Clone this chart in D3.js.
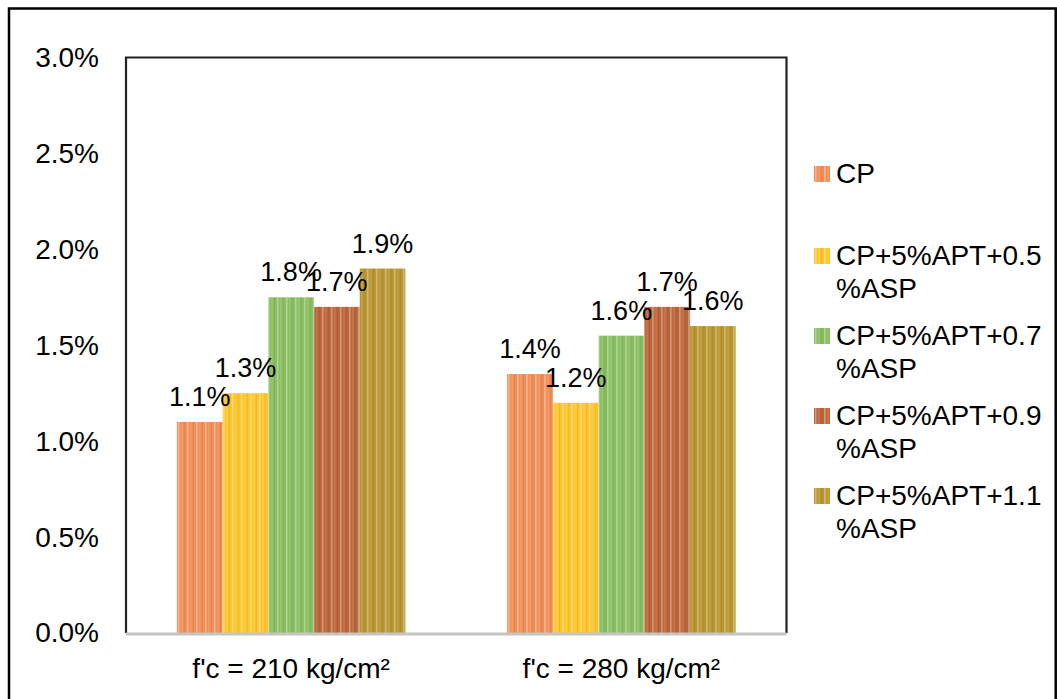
<!DOCTYPE html>
<html>
<head>
<meta charset="utf-8">
<script src="https://cdn.jsdelivr.net/npm/d3@7"></script>
<style>
  html, body { margin: 0; padding: 0; background: #fff; }
  svg { display: block; font-family: "Liberation Sans", Arial, sans-serif; }
</style>
</head>
<body>
<svg id="chart" width="1057" height="699"></svg>
<script>
// Strength groups on the x axis
const categories = ["f'c = 210 kg/cm²", "f'c = 280 kg/cm²"];

// Mix designs (legend order), each with its two-line legend label
const seriesNames = ["CP", "CP+5%APT+0.5%ASP", "CP+5%APT+0.7%ASP", "CP+5%APT+0.9%ASP", "CP+5%APT+1.1%ASP"];
const legendLines = [["CP"], ["CP+5%APT+0.5", "%ASP"], ["CP+5%APT+0.7", "%ASP"], ["CP+5%APT+0.9", "%ASP"], ["CP+5%APT+1.1", "%ASP"]];

// Values in percent, one array per mix design: [210, 280]
const cpValues    = [1.10, 1.35];
const asp05Values = [1.25, 1.20];
const asp07Values = [1.75, 1.55];
const asp09Values = [1.70, 1.70];
const asp11Values = [1.90, 1.60];
const seriesValues = [cpValues, asp05Values, asp07Values, asp09Values, asp11Values];

// Y axis ticks (percent)
const yTicks = [0, 0.5, 1.0, 1.5, 2.0, 2.5, 3.0];

const colors = ["#ef8d55", "#fcc52a", "#88bd5f", "#bb6438", "#b99530"];

const svg = d3.select("#chart");
const plot = { left: 126, right: 786.5, top: 57.5, bottom: 633 };

// Striped fills
const defs = svg.append("defs");
colors.forEach((c, i) => {
  const p = defs.append("pattern")
    .attr("id", "stripe" + i)
    .attr("patternUnits", "userSpaceOnUse")
    .attr("width", 9).attr("height", 12);
  p.append("rect").attr("width", 9).attr("height", 12).attr("fill", c);
  p.append("rect").attr("x", 1).attr("width", 1.6).attr("height", 12).attr("fill", "#fff").attr("opacity", 0.35);
  p.append("rect").attr("x", 4.5).attr("width", 1).attr("height", 12).attr("fill", "#fff").attr("opacity", 0.2);
  p.append("rect").attr("x", 7).attr("width", 1).attr("height", 12).attr("fill", "#000").attr("opacity", 0.06);
});

// Outer frame
svg.append("rect")
  .attr("x", 9).attr("y", 8.5)
  .attr("width", 1055.7 - 9).attr("height", 720)
  .attr("fill", "#fff").attr("stroke", "#000").attr("stroke-width", 2.5);

// Scales
const x0 = d3.scaleBand()
  .domain(categories)
  .range([plot.left, plot.right])
  .paddingInner(0.308)
  .paddingOuter(0.154);

const x1 = d3.scaleBand()
  .domain(seriesNames)
  .range([0, x0.bandwidth()]);

const y = d3.scaleLinear().domain([0, 3]).range([plot.bottom, plot.top]);

// Plot area frame (left, top, right)
svg.append("path")
  .attr("d", `M${plot.left},${plot.bottom} V${plot.top} H${plot.right} V${plot.bottom}`)
  .attr("fill", "none").attr("stroke", "#222").attr("stroke-width", 2.2);

// Bars
const groups = svg.append("g").selectAll("g")
  .data(categories)
  .join("g")
  .attr("transform", d => `translate(${x0(d)},0)`);

const fmt = d3.format(".1f");

groups.each(function(cat, ci) {
  const g = d3.select(this);
  seriesNames.forEach((s, si) => {
    const v = seriesValues[si][ci];
    g.append("rect")
      .attr("x", x1(s))
      .attr("y", y(v))
      .attr("width", x1.bandwidth())
      .attr("height", y(0) - y(v))
      .attr("fill", `url(#stripe${si})`);
  });
  seriesNames.forEach((s, si) => {
    const v = seriesValues[si][ci];
    g.append("text")
      .attr("x", x1(s) + x1.bandwidth() / 2)
      .attr("y", y(v) - 16)
      .attr("text-anchor", "middle")
      .attr("font-size", 27)
      .attr("fill", "#000")
      .text(fmt(v) + "%");
  });
});

// X axis baseline
svg.append("line")
  .attr("x1", plot.left).attr("x2", plot.right)
  .attr("y1", plot.bottom + 1).attr("y2", plot.bottom + 1)
  .attr("stroke", "#c4c4c4").attr("stroke-width", 3);

// Y axis labels
const yAxis = d3.axisLeft(y).tickValues(yTicks).tickSize(0).tickPadding(27)
  .tickFormat(d => fmt(d) + "%");
const yg = svg.append("g").attr("transform", `translate(${plot.left},0)`).call(yAxis);
yg.select(".domain").remove();
yg.selectAll("text").attr("font-size", 28).attr("fill", "#000")
  .attr("font-family", "'Liberation Sans', Arial, sans-serif");

// X axis labels
const xAxis = d3.axisBottom(x0).tickSize(0).tickPadding(25);
const xg = svg.append("g").attr("transform", `translate(0,${plot.bottom})`).call(xAxis);
xg.select(".domain").remove();
xg.selectAll("text").attr("font-size", 28).attr("fill", "#000")
  .attr("font-family", "'Liberation Sans', Arial, sans-serif");

// Legend
const legend = svg.append("g").attr("transform", "translate(814,0)");
const legendBase = [183, 265, 345, 425, 505];
legendLines.forEach((lines, i) => {
  const item = legend.append("g");
  item.append("rect")
    .attr("x", 0).attr("y", legendBase[i] - 17)
    .attr("width", 16).attr("height", 16)
    .attr("fill", `url(#stripe${i})`);
  const t = item.append("text")
    .attr("x", 22).attr("y", legendBase[i])
    .attr("font-size", 28).attr("fill", "#000");
  lines.forEach((ln, li) => {
    t.append("tspan").attr("x", 22).attr("dy", li === 0 ? 0 : 33).text(ln);
  });
});
</script>
</body>
</html>
